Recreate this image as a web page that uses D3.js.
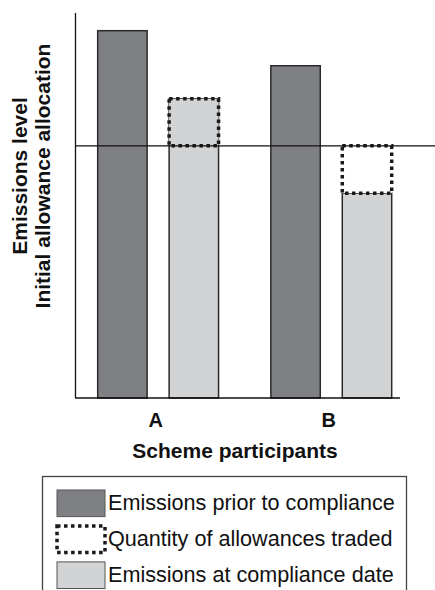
<!DOCTYPE html>
<html>
<head>
<meta charset="utf-8">
<script src="https://cdn.jsdelivr.net/npm/d3@7"></script>
<style>
  body { margin: 0; background: #fff; }
  svg { display: block; font-family: "Liberation Sans", Arial, sans-serif; }
</style>
</head>
<body>
<svg id="chart" width="435" height="590"></svg>
<script>
// participants and emission levels (arbitrary units, 0-100)
const participants = ["A", "B"];
const priorEmissions = [95.4, 86.3];
const complianceEmissions = [77.7, 53.2];
const allocation = 65.5;
const legendLabels = ["Emissions prior to compliance", "Quantity of allowances traded", "Emissions at compliance date"];

const svg = d3.select("#chart");

const y = d3.scaleLinear().domain([0, 100]).range([398, 13]);
const x = d3.scaleBand().domain(participants).range([97.7, 391.7]).paddingInner(0.302).paddingOuter(0);
const sub = d3.scaleBand().domain(["prior", "compliance"]).range([0, x.bandwidth()]).paddingInner(0.308);

const darkFill = "#7f8084", lightFill = "#d2d3d5", edge = "#2a2a2a";

// bars
participants.forEach((p, i) => {
  const g = svg.append("g").attr("transform", `translate(${x(p)},0)`);
  g.append("rect")
    .attr("x", sub("prior")).attr("width", sub.bandwidth())
    .attr("y", y(priorEmissions[i])).attr("height", y(0) - y(priorEmissions[i]))
    .attr("fill", darkFill).attr("stroke", edge).attr("stroke-width", 1.5);
  g.append("rect")
    .attr("x", sub("compliance")).attr("width", sub.bandwidth())
    .attr("y", y(complianceEmissions[i])).attr("height", y(0) - y(complianceEmissions[i]))
    .attr("fill", lightFill).attr("stroke", edge).attr("stroke-width", 1.5);
  // traded quantity: box between allocation and compliance level
  const top = Math.max(allocation, complianceEmissions[i]);
  const bot = Math.min(allocation, complianceEmissions[i]);
  g.append("rect")
    .attr("x", sub("compliance")).attr("width", sub.bandwidth())
    .attr("y", y(top)).attr("height", y(bot) - y(top))
    .attr("fill", complianceEmissions[i] > allocation ? lightFill : "#fff")
    .attr("stroke", "#1a1a1a").attr("stroke-width", 3.5)
    .attr("stroke-dasharray", "3.5,3.5");
});

// allocation line
svg.append("line")
  .attr("x1", 76).attr("x2", 435)
  .attr("y1", y(allocation)).attr("y2", y(allocation))
  .attr("stroke", "#111").attr("stroke-width", 1.3);

// axes
svg.append("line").attr("x1", 75.5).attr("x2", 75.5).attr("y1", y(100)).attr("y2", y(0))
  .attr("stroke", "#111").attr("stroke-width", 1.3);
svg.append("line").attr("x1", 75).attr("x2", 400).attr("y1", y(0)).attr("y2", y(0))
  .attr("stroke", "#111").attr("stroke-width", 1.5);

svg.selectAll(".xlab").data(participants).enter().append("text")
  .attr("x", d => x(d) + x.bandwidth() / 2 - 2.5).attr("y", 427)
  .attr("text-anchor", "middle").attr("font-size", 20).attr("font-weight", "bold")
  .attr("fill", "#111")
  .text(d => d);

svg.append("text").attr("x", 235).attr("y", 458)
  .attr("text-anchor", "middle").attr("font-size", 21).attr("font-weight", "bold")
  .attr("fill", "#111")
  .text("Scheme participants");

svg.append("text").attr("transform", "translate(27,176) rotate(-90)")
  .attr("text-anchor", "middle").attr("font-size", 21).attr("font-weight", "bold")
  .attr("fill", "#111")
  .text("Emissions level");
svg.append("text").attr("transform", "translate(50,176) rotate(-90)")
  .attr("text-anchor", "middle").attr("font-size", 21).attr("font-weight", "bold")
  .attr("fill", "#111")
  .text("Initial allowance allocation");

// legend
const legend = svg.append("g");
legend.append("rect").attr("x", 42.5).attr("y", 476.5).attr("width", 364).attr("height", 130)
  .attr("fill", "none").attr("stroke", "#444").attr("stroke-width", 1.3);
const ly = d3.scaleBand().domain(legendLabels).range([490, 588.5]).paddingInner(0.26);
legendLabels.forEach((lab, i) => {
  const sw = legend.append("rect").attr("x", 57).attr("y", ly(lab)).attr("width", 48).attr("height", ly.bandwidth());
  if (i === 0) sw.attr("fill", darkFill).attr("stroke", "#555").attr("stroke-width", 1);
  else if (i === 2) sw.attr("fill", lightFill).attr("stroke", "#555").attr("stroke-width", 1);
  else sw.attr("fill", "#fff").attr("stroke", "#1a1a1a").attr("stroke-width", 3.5).attr("stroke-dasharray", "3.5,3.5");
  legend.append("text").attr("x", 108).attr("y", ly(lab) + ly.bandwidth() / 2 + 7)
    .attr("font-size", 21.6).attr("fill", "#111").text(lab);
});
</script>
</body>
</html>
